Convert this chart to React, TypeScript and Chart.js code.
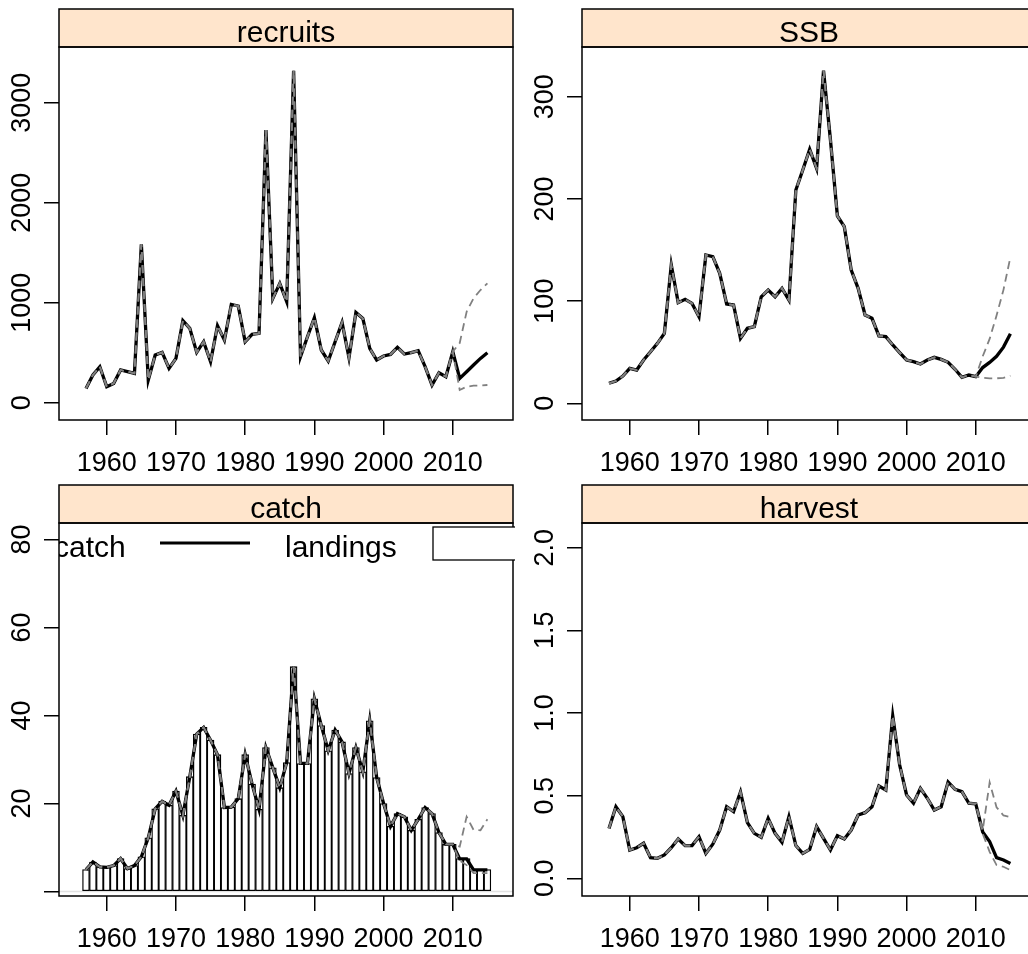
import { useEffect, useRef } from "react";
import { Chart, registerables } from "chart.js";

Chart.register(...registerables);

// ---- data -------------------------------------------------------------
const years = [
  1957, 1958, 1959, 1960, 1961, 1962, 1963, 1964, 1965, 1966,
  1967, 1968, 1969, 1970, 1971, 1972, 1973, 1974, 1975, 1976,
  1977, 1978, 1979, 1980, 1981, 1982, 1983, 1984, 1985, 1986,
  1987, 1988, 1989, 1990, 1991, 1992, 1993, 1994, 1995, 1996,
  1997, 1998, 1999, 2000, 2001, 2002, 2003, 2004, 2005, 2006,
  2007, 2008, 2009, 2010, 2011, 2012, 2013, 2014, 2015,
];

// assessment years 1957-2010
const recruitsHist = [
  143, 277, 360, 160, 193, 327, 310, 293, 1583, 227,
  477, 503, 343, 443, 820, 743, 503, 610, 410, 770,
  627, 983, 967, 610, 683, 693, 2727, 1043, 1193, 1010,
  3320, 460, 660, 850, 527, 417, 610, 803, 450, 903,
  843, 543, 427, 467, 483, 553, 487, 500, 520, 360,
  177, 300, 260, 510,
];
// projection years 2011-2015: median, upper and lower quantiles
const recruitsProj = [243, 310, 377, 443, 500];
const recruitsProjHi = [597, 910, 1044, 1127, 1194];
const recruitsProjLo = [127, 160, 170, 172, 177];

const ssbHist = [
  19.6, 21.8, 26.7, 34.2, 32.6, 42.4, 50.5, 58.7, 68.5, 135.3,
  98.5, 101.7, 97.8, 84.8, 145.1, 143.5, 127.2, 97.2, 96.2, 63.6,
  73.4, 75.0, 104.3, 110.9, 104.3, 112.5, 101.1, 208.7, 228.3, 248.5,
  229.9, 325.4, 257.6, 183.3, 172.8, 130.4, 112.5, 86.4, 83.2, 65.9,
  65.2, 57.1, 49.6, 42.4, 40.8, 38.5, 42.4, 45.0, 43.0, 40.1,
  33.3, 25.4, 27.7, 26.1,
];
const ssbProj = [35, 40, 46, 55, 68];
const ssbProjHi = [46, 63, 86, 111, 143];
const ssbProjLo = [25, 24.5, 24.5, 25, 27];

const landingsHist = [
  5.0, 6.7, 5.6, 5.5, 5.9, 7.5, 5.2, 5.9, 7.9, 12.2,
  18.8, 20.5, 19.6, 22.8, 17.3, 26.1, 35.8, 37.3, 34.4, 31.1,
  19.1, 19.2, 21.1, 31.1, 24.4, 18.7, 32.7, 28.1, 23.6, 29.3,
  51.1, 29.1, 29.1, 43.8, 37.7, 32.0, 36.7, 34.0, 26.8, 32.7,
  27.2, 38.8, 25.9, 20.0, 14.8, 17.7, 17.0, 13.9, 16.4, 19.1,
  17.7, 13.4, 10.7, 10.7,
];
const landingsProj = [7.5, 7.5, 5.0, 5.0, 5.0];
const catchHist = [
  5.0, 6.7, 5.6, 5.5, 5.9, 7.5, 5.2, 5.9, 7.9, 12.2,
  18.8, 20.5, 19.6, 22.8, 17.3, 26.1, 35.8, 37.3, 34.4, 31.1,
  19.1, 19.2, 21.1, 31.1, 24.4, 18.7, 32.7, 28.1, 23.6, 29.3,
  51.1, 29.1, 29.1, 43.8, 37.7, 32.0, 36.7, 34.0, 26.8, 32.7,
  27.2, 38.8, 25.9, 20.0, 14.8, 17.7, 17.0, 13.9, 16.4, 19.1,
  17.7, 13.4, 10.7, 10.7,
];
const catchProj = [7.4, 7.4, 4.9, 4.9, 4.9];
const catchProjHi = [10.2, 17.0, 14.0, 13.9, 16.4];
const catchProjLo = [7.0, 6.0, 4.2, 4.2, 4.2];

const harvestHist = [
  0.302, 0.433, 0.373, 0.171, 0.185, 0.212, 0.125, 0.121, 0.141, 0.185,
  0.238, 0.198, 0.198, 0.252, 0.151, 0.206, 0.292, 0.433, 0.403, 0.522,
  0.337, 0.272, 0.248, 0.363, 0.272, 0.218, 0.373, 0.198, 0.151, 0.175,
  0.313, 0.242, 0.171, 0.258, 0.238, 0.292, 0.383, 0.397, 0.433, 0.558,
  0.534, 0.982, 0.685, 0.504, 0.454, 0.544, 0.484, 0.413, 0.433, 0.583,
  0.538, 0.524, 0.454, 0.450,
];
const harvestProj = [0.28, 0.222, 0.125, 0.111, 0.09];
const harvestProjHi = [0.29, 0.58, 0.43, 0.38, 0.37];
const harvestProjLo = [0.27, 0.16, 0.08, 0.07, 0.05];

// axis ticks
const xTicks = [1960, 1970, 1980, 1990, 2000, 2010];
const recruitsTicks = [0, 1000, 2000, 3000];
const recruitsTickLabels = ["0", "1000", "2000", "3000"];
const ssbTicks = [0, 100, 200, 300];
const ssbTickLabels = ["0", "100", "200", "300"];
const catchTicks = [0, 20, 40, 60, 80];
const catchTickLabels = ["", "20", "40", "60", "80"];
const harvestTicks = [0, 0.5, 1.0, 1.5, 2.0];
const harvestTickLabels = ["0.0", "0.5", "1.0", "1.5", "2.0"];

const legendLabels = ["catch", "landings"];

// ---- styling / geometry ------------------------------------------------
const FONT = "'Liberation Sans', Arial, Helvetica, sans-serif";
const TICK_FONT_SIZE = 27;
const STRIP_FONT_SIZE = 30;
const STRIP_BG = "#ffe5cc";
const GREY = "#808080";
const X_MIN = 1953.1;
const X_MAX = 2018.7;
const STRIP_TOP = 9;
const AREA_TOP = 47;
const AREA_BOTTOM = 420;

type Box = { left: number; top: number; w: number; h: number; areaLeft: number; areaRight: number };

type Spec = {
  title: string;
  median: number[];
  upper: number[];
  lower: number[];
  bars?: number[];
  yMin: number;
  yMax: number;
  yTicks: number[];
  yLabels: string[];
  legend?: boolean;
  zeroLine?: boolean;
};

const series = (hist: number[], proj: number[]) => [...hist, ...proj];
const points = (vals: number[]) => vals.map((v, i) => ({ x: years[i], y: v }));

const specs: Spec[] = [
  {
    title: "recruits",
    median: series(recruitsHist, recruitsProj),
    upper: series(recruitsHist, recruitsProjHi),
    lower: series(recruitsHist, recruitsProjLo),
    yMin: -173,
    yMax: 3557,
    yTicks: recruitsTicks,
    yLabels: recruitsTickLabels,
  },
  {
    title: "SSB",
    median: series(ssbHist, ssbProj),
    upper: series(ssbHist, ssbProjHi),
    lower: series(ssbHist, ssbProjLo),
    yMin: -16.3,
    yMax: 348.6,
    yTicks: ssbTicks,
    yLabels: ssbTickLabels,
  },
  {
    title: "catch",
    median: series(catchHist, catchProj),
    upper: series(catchHist, catchProjHi),
    lower: series(catchHist, catchProjLo),
    bars: series(landingsHist, landingsProj),
    yMin: -1.02,
    yMax: 83.75,
    yTicks: catchTicks,
    yLabels: catchTickLabels,
    legend: true,
    zeroLine: true,
  },
  {
    title: "harvest",
    median: series(harvestHist, harvestProj),
    upper: series(harvestHist, harvestProjHi),
    lower: series(harvestHist, harvestProjLo),
    yMin: -0.107,
    yMax: 2.149,
    yTicks: harvestTicks,
    yLabels: harvestTickLabels,
  },
];

const boxes: Box[] = [
  { left: 0, top: 0, w: 516, h: 477, areaLeft: 59, areaRight: 513 },
  { left: 516, top: 0, w: 521, h: 477, areaLeft: 66, areaRight: 520 },
  { left: 0, top: 476, w: 516, h: 478, areaLeft: 59, areaRight: 513 },
  { left: 516, top: 476, w: 521, h: 478, areaLeft: 66, areaRight: 520 },
];

// strip, frame, rotated y labels and the key of the catch panel
function decorations(spec: Spec) {
  return {
    id: "panelDecor",
    beforeDatasetsDraw(chart: any) {
      if (!spec.zeroLine) return;
      const { ctx, chartArea: a, scales } = chart;
      const y0 = scales.y.getPixelForValue(0);
      ctx.save();
      ctx.strokeStyle = "#e2e2e2";
      ctx.lineWidth = 1.5;
      ctx.beginPath();
      ctx.moveTo(a.left, y0);
      ctx.lineTo(a.right, y0);
      ctx.stroke();
      ctx.restore();
    },
    afterDraw(chart: any) {
      const { ctx, chartArea: a, scales } = chart;
      ctx.save();
      // strip
      ctx.fillStyle = STRIP_BG;
      ctx.fillRect(a.left, STRIP_TOP, a.right - a.left, a.top - STRIP_TOP);
      ctx.strokeStyle = "#000";
      ctx.lineWidth = 1.5;
      ctx.strokeRect(a.left, STRIP_TOP, a.right - a.left, a.top - STRIP_TOP);
      ctx.fillStyle = "#000";
      ctx.font = `${STRIP_FONT_SIZE}px ${FONT}`;
      ctx.textAlign = "center";
      ctx.textBaseline = "alphabetic";
      ctx.fillText(spec.title, (a.left + a.right) / 2, a.top - 5);
      // panel frame
      ctx.strokeRect(a.left, a.top, a.right - a.left, a.bottom - a.top);
      // y tick labels, parallel to the axis
      ctx.font = `${TICK_FONT_SIZE}px ${FONT}`;
      spec.yTicks.forEach((v, i) => {
        const label = spec.yLabels[i];
        if (!label) return;
        const py = scales.y.getPixelForValue(v);
        ctx.save();
        ctx.translate(a.left - 29, py);
        ctx.rotate(-Math.PI / 2);
        ctx.textAlign = "center";
        ctx.textBaseline = "alphabetic";
        ctx.fillText(label, 0, 0);
        ctx.restore();
      });
      // key
      if (spec.legend) {
        ctx.save();
        ctx.beginPath();
        ctx.rect(a.left, a.top, a.right + 2 - a.left, a.bottom - a.top);
        ctx.clip();
        ctx.font = `${STRIP_FONT_SIZE}px ${FONT}`;
        ctx.textAlign = "left";
        ctx.fillStyle = "#000";
        const base = a.top + 34;
        ctx.fillText(legendLabels[0], a.left - 5, base);
        ctx.lineWidth = 3;
        ctx.beginPath();
        ctx.moveTo(a.left + 101, a.top + 20);
        ctx.lineTo(a.left + 191, a.top + 20);
        ctx.stroke();
        ctx.fillText(legendLabels[1], a.left + 226, base);
        ctx.lineWidth = 1.3;
        ctx.fillStyle = "#fff";
        ctx.fillRect(a.left + 374, a.top + 4, 120, 33);
        ctx.strokeRect(a.left + 374, a.top + 4, 120, 33);
        ctx.restore();
      }
      ctx.restore();
    },
  };
}

function buildConfig(spec: Spec, box: Box): any {
  const datasets: any[] = [
    {
      type: "line",
      data: points(spec.upper),
      borderColor: GREY,
      borderWidth: 1.8,
      borderDash: [8, 5],
      pointRadius: 0,
      tension: 0,
    },
    {
      type: "line",
      data: points(spec.lower),
      borderColor: GREY,
      borderWidth: 1.8,
      borderDash: [8, 5],
      pointRadius: 0,
      tension: 0,
    },
    {
      type: "line",
      data: points(spec.median),
      borderColor: "#000",
      borderWidth: 3.3,
      pointRadius: 0,
      tension: 0,
    },
  ];
  if (spec.bars) {
    datasets.push({
      type: "bar",
      data: points(spec.bars),
      backgroundColor: "#fff",
      borderColor: "#000",
      borderWidth: 1.3,
      borderSkipped: false,
      barPercentage: 1,
      categoryPercentage: 1,
    });
  }
  return {
    type: spec.bars ? "bar" : "line",
    data: { datasets },
    options: {
      animation: false,
      responsive: false,
      devicePixelRatio: 1,
      events: [],
      layout: { padding: { top: AREA_TOP, left: 0, right: box.w - box.areaRight, bottom: 0 } },
      plugins: { legend: { display: false }, tooltip: { enabled: false } },
      scales: {
        x: {
          type: "linear",
          min: X_MIN,
          max: X_MAX,
          offset: false,
          afterBuildTicks: (s: any) => {
            s.ticks = xTicks.map((v) => ({ value: v }));
          },
          afterFit: (s: any) => {
            s.height = box.h - AREA_BOTTOM;
          },
          ticks: {
            callback: (v: any) => String(v),
            font: { family: FONT, size: TICK_FONT_SIZE },
            color: "#000",
            padding: 12,
            maxRotation: 0,
            autoSkip: false,
          },
          grid: { drawOnChartArea: false, drawTicks: true, tickLength: 15, color: "#000", lineWidth: 1.5, offset: false },
          border: { display: false },
        },
        y: {
          type: "linear",
          min: spec.yMin,
          max: spec.yMax,
          afterBuildTicks: (s: any) => {
            s.ticks = spec.yTicks.map((v) => ({ value: v }));
          },
          afterFit: (s: any) => {
            s.width = box.areaLeft;
          },
          ticks: { display: false },
          grid: { drawOnChartArea: false, drawTicks: true, tickLength: 15, color: "#000", lineWidth: 1.5 },
          border: { display: false },
        },
      },
    },
    plugins: [decorations(spec)],
  };
}

function Panel({ spec, box }: { spec: Spec; box: Box }) {
  const ref = useRef<HTMLCanvasElement | null>(null);
  useEffect(() => {
    const chart = new Chart(ref.current as HTMLCanvasElement, buildConfig(spec, box));
    return () => chart.destroy();
  }, [spec, box]);
  return (
    <canvas
      ref={ref}
      width={box.w}
      height={box.h}
      style={{ position: "absolute", left: box.left, top: box.top, width: box.w, height: box.h }}
    />
  );
}

export default function App() {
  return (
    <div
      style={{
        position: "fixed",
        left: 0,
        top: 0,
        width: 1028,
        height: 954,
        overflow: "hidden",
        background: "#fff",
      }}
    >
      {specs.map((s, i) => (
        <Panel key={s.title} spec={s} box={boxes[i]} />
      ))}
    </div>
  );
}
